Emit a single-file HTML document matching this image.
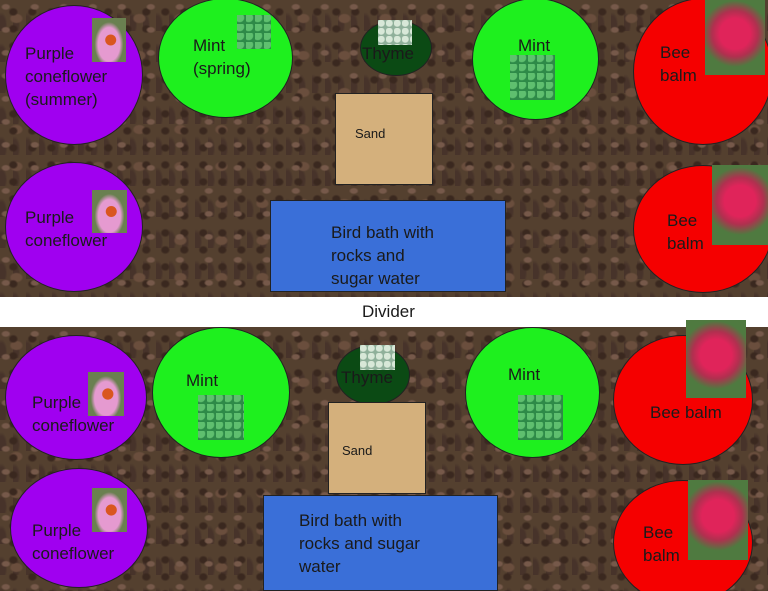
<!DOCTYPE html>
<html style="width:768px;height:591px;overflow:hidden"><head><meta charset="utf-8"><style>
*{margin:0;padding:0;box-sizing:border-box}
body{width:768px;height:591px;overflow:hidden;position:relative;font-family:"Liberation Sans",sans-serif;
background:#5a4234;}
.soil{position:absolute;left:0;width:768px;overflow:hidden;background:
radial-gradient(ellipse at 20% 30%,#76594a 0 3px,transparent 5px) 0 0/29px 23px,
radial-gradient(ellipse at 70% 70%,#3a281f 0 3px,transparent 5px) 0 0/19px 17px,
radial-gradient(ellipse at 40% 50%,#6a4e3d 0 5px,transparent 7px) 0 0/41px 37px,
radial-gradient(ellipse at 10% 80%,#47332a 0 4px,transparent 6px) 0 0/13px 31px,#54402f;}
.e{position:absolute;border-radius:50%;border:1px solid #222}
.r{position:absolute;border:1px solid #222}
.t{position:absolute;color:#1a1a1a;font-size:17px;line-height:23px}
.img{position:absolute}
.cone{background:radial-gradient(circle at 55% 50%,#d9561f 0 18%,transparent 20%),radial-gradient(ellipse at 50% 60%,#e59ad0 0 45%,#6a8050 60%)}
.mint{background:radial-gradient(circle at 30% 30%,#5fbf6f 0 4px,transparent 5px) 0 0/9px 9px,#2e8a48}
.thy{background:radial-gradient(circle at 40% 40%,#d8e8d8 0 3px,transparent 4px) 0 0/8px 8px,#8fb09a}
.bee{background:radial-gradient(circle at 50% 45%,#e0245a 0 30%,#b0304f 45%,#4f7a40 65%)}
.sand{background:#d4b07c}
</style></head><body>
<div class="soil" style="top:0;height:297px"></div>
<div style="position:absolute;top:297px;left:0;width:768px;height:30px;background:#fff"></div>
<div class="t" style="top:300px;left:362px;font-size:17px">Divider</div>
<div class="soil" style="top:327px;height:264px"></div>

<div class="e" style="left:5px;top:5px;width:138px;height:140px;background:#a000f0"></div>
<div class="img cone" style="left:92px;top:18px;width:34px;height:44px"></div>
<div class="t" style="left:25px;top:42px">Purple<br>coneflower<br>(summer)</div>

<div class="e" style="left:158px;top:-2px;width:135px;height:120px;background:#1ef01e"></div>
<div class="img mint" style="left:237px;top:15px;width:34px;height:34px"></div>
<div class="t" style="left:193px;top:34px">Mint<br>(spring)</div>

<div class="e" style="left:360px;top:20px;width:72px;height:56px;background:#0b4a14"></div>
<div class="img thy" style="left:378px;top:20px;width:34px;height:25px"></div>
<div class="t" style="left:362px;top:42px">Thyme</div>

<div class="e" style="left:472px;top:-2px;width:127px;height:122px;background:#1ef01e"></div>
<div class="img mint" style="left:510px;top:55px;width:45px;height:45px"></div>
<div class="t" style="left:518px;top:34px">Mint</div>

<div class="e" style="left:633px;top:-2px;width:140px;height:147px;background:#f50000"></div>
<div class="img bee" style="left:705px;top:0;width:60px;height:75px"></div>
<div class="t" style="left:660px;top:41px">Bee<br>balm</div>

<div class="r sand" style="left:335px;top:93px;width:98px;height:92px"></div>
<div class="t" style="left:355px;top:122px;font-size:13px">Sand</div>

<div class="e" style="left:5px;top:162px;width:138px;height:130px;background:#a000f0"></div>
<div class="img cone" style="left:92px;top:190px;width:35px;height:43px"></div>
<div class="t" style="left:25px;top:206px">Purple<br>coneflower</div>

<div class="r" style="left:270px;top:200px;width:236px;height:92px;background:#3a6fd8"></div>
<div class="t" style="left:331px;top:221px">Bird bath with<br>rocks and<br>sugar water</div>

<div class="e" style="left:633px;top:165px;width:140px;height:128px;background:#f50000"></div>
<div class="img bee" style="left:712px;top:165px;width:56px;height:80px"></div>
<div class="t" style="left:667px;top:209px">Bee<br>balm</div>

<div class="e" style="left:5px;top:335px;width:142px;height:125px;background:#a000f0"></div>
<div class="img cone" style="left:88px;top:372px;width:36px;height:44px"></div>
<div class="t" style="left:32px;top:391px">Purple<br>coneflower</div>

<div class="e" style="left:10px;top:468px;width:138px;height:120px;background:#a000f0"></div>
<div class="img cone" style="left:92px;top:488px;width:35px;height:44px"></div>
<div class="t" style="left:32px;top:519px">Purple<br>coneflower</div>

<div class="e" style="left:152px;top:327px;width:138px;height:131px;background:#1ef01e"></div>
<div class="img mint" style="left:198px;top:395px;width:46px;height:45px"></div>
<div class="t" style="left:186px;top:369px">Mint</div>

<div class="e" style="left:336px;top:345px;width:74px;height:60px;background:#0b4a14"></div>
<div class="img thy" style="left:360px;top:345px;width:35px;height:25px"></div>
<div class="t" style="left:341px;top:366px">Thyme</div>

<div class="r sand" style="left:328px;top:402px;width:98px;height:92px"></div>
<div class="t" style="left:342px;top:439px;font-size:13px">Sand</div>

<div class="e" style="left:465px;top:327px;width:135px;height:131px;background:#1ef01e"></div>
<div class="img mint" style="left:518px;top:395px;width:45px;height:45px"></div>
<div class="t" style="left:508px;top:363px">Mint</div>

<div class="e" style="left:613px;top:335px;width:140px;height:130px;background:#f50000"></div>
<div class="img bee" style="left:686px;top:320px;width:60px;height:78px"></div>
<div class="t" style="left:650px;top:401px">Bee balm</div>

<div class="r" style="left:263px;top:495px;width:235px;height:96px;background:#3a6fd8"></div>
<div class="t" style="left:299px;top:509px">Bird bath with<br>rocks and sugar<br>water</div>

<div class="e" style="left:613px;top:480px;width:140px;height:125px;background:#f50000"></div>
<div class="img bee" style="left:688px;top:480px;width:60px;height:80px"></div>
<div class="t" style="left:643px;top:521px">Bee<br>balm</div>
</body></html>
